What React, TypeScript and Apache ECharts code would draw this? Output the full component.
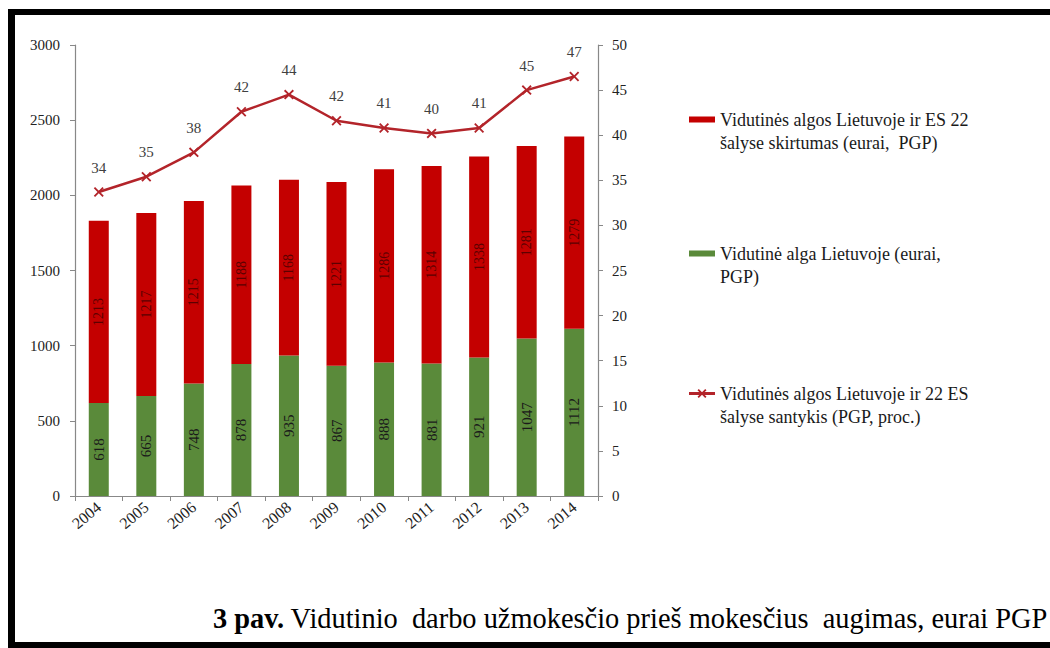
import React, { useEffect, useRef } from "react";
import * as echarts from "echarts";

const years = ["2004", "2005", "2006", "2007", "2008", "2009", "2010", "2011", "2012", "2013", "2014"];
const wageLT = [618, 665, 748, 878, 935, 867, 888, 881, 921, 1047, 1112];
const gapEU = [1213, 1217, 1215, 1188, 1168, 1221, 1286, 1314, 1338, 1281, 1279];
const ratio = [33.7, 35.4, 38.1, 42.6, 44.5, 41.6, 40.8, 40.2, 40.8, 45.0, 46.5];
const ratioLabels = ["34", "35", "38", "42", "44", "42", "41", "40", "41", "45", "47"];
const leftTicks = [0, 500, 1000, 1500, 2000, 2500, 3000];
const rightTicks = [0, 5, 10, 15, 20, 25, 30, 35, 40, 45, 50];

const nameGap = "Vidutinės algos Lietuvoje ir ES 22\nšalyse skirtumas (eurai,  PGP)";
const nameWage = "Vidutinė alga Lietuvoje (eurai,\nPGP)";
const nameRatio = "Vidutinės algos Lietuvoje ir 22 ES\nšalyse santykis (PGP, proc.)";

const RED = "#c40000";
const GREEN = "#5a8a3a";
const LINE = "#b3242a";
const FONT = "Liberation Serif";

function xPoly(cx: number, cy: number, h: number, t: number) {
  const pts = [
    [-h, -h + t], [-h + t, -h], [0, -t], [h - t, -h], [h, -h + t], [t, 0],
    [h, h - t], [h - t, h], [0, t], [-h + t, h], [-h, h - t], [-t, 0],
  ];
  return "M" + pts.map((p) => `${(cx + p[0]).toFixed(2)},${(cy + p[1]).toFixed(2)}`).join(" L") + " Z";
}

const corners = "M0,0 L0.01,0 L0,0.01 Z M26,46 L25.99,46 L26,45.99 Z";
const rectIcon = "path://M0,8.5 L26,8.5 L26,14.5 L0,14.5 Z " + corners;
const lineIcon = "path://M0,10 L26,10 L26,13 L0,13 Z " + xPoly(13, 11.5, 4.5, 1.3) + " " + corners;
const xSymbol = "path://" + xPoly(5, 5, 5, 1.3);

function legendAt(name: string, top: number, icon: string) {
  return {
    data: [{ name, icon }],
    left: 689,
    top,
    padding: 0,
    orient: "vertical",
    itemWidth: 26,
    itemHeight: 46,
    symbolKeepAspect: false,
    itemStyle: { borderWidth: 0 },
    selectedMode: false,
    formatter: (n: string) => n.split("\n").map((s) => "{a|" + s + "}").join("\n"),
    textStyle: {
      fontFamily: FONT,
      fontSize: 18,
      lineHeight: 23,
      color: "#1a1a1a",
      rich: { a: { fontFamily: FONT, fontSize: 18, lineHeight: 23, color: "#1a1a1a" } },
    },
  };
}

export default function App() {
  const ref = useRef<HTMLDivElement>(null);
  useEffect(() => {
    if (!ref.current) return;
    const chart = echarts.init(ref.current, undefined, { renderer: "svg" });
    chart.setOption({
      animation: false,
      backgroundColor: "#ffffff",
      textStyle: { fontFamily: FONT },
      grid: { left: 75, right: 452, top: 45, bottom: 152 },
      legend: [
        legendAt(nameGap, 108, rectIcon),
        legendAt(nameWage, 242, rectIcon),
        legendAt(nameRatio, 382, lineIcon),
      ],
      xAxis: {
        type: "category",
        data: years,
        axisLine: { lineStyle: { color: "#888", width: 1.2 } },
        axisTick: { show: true, length: 5, lineStyle: { color: "#888" } },
        axisLabel: { rotate: 40, margin: 9, fontSize: 16, color: "#222", fontFamily: FONT },
      },
      yAxis: [
        {
          type: "value",
          min: leftTicks[0],
          max: leftTicks[leftTicks.length - 1],
          interval: 500,
          axisLine: { show: true, lineStyle: { color: "#888", width: 1.2 } },
          axisTick: { show: true, length: 5, lineStyle: { color: "#888" } },
          splitLine: { show: false },
          axisLabel: {
            margin: 15,
            fontSize: 15,
            color: "#222",
            fontFamily: FONT,
            formatter: (v: number) => String(v),
          },
        },
        {
          type: "value",
          min: rightTicks[0],
          max: rightTicks[rightTicks.length - 1],
          interval: 5,
          position: "right",
          axisLine: { show: true, lineStyle: { color: "#888", width: 1.2 } },
          axisTick: { show: true, length: 5, lineStyle: { color: "#888" } },
          splitLine: { show: false },
          axisLabel: {
            margin: 14,
            fontSize: 15,
            color: "#222",
            fontFamily: FONT,
            formatter: (v: number) => String(v),
          },
        },
      ],
      series: [
        {
          name: nameWage,
          type: "bar",
          stack: "total",
          data: wageLT,
          barWidth: 20,
          itemStyle: { color: GREEN },
          label: {
            show: true,
            position: "inside",
            rotate: 90,
            fontSize: 15,
            color: "#1a1a1a",
            fontFamily: FONT,
          },
        },
        {
          name: nameGap,
          type: "bar",
          stack: "total",
          data: gapEU,
          barWidth: 20,
          itemStyle: { color: RED },
          label: {
            show: true,
            position: "inside",
            rotate: 90,
            fontSize: 14,
            color: "#5c0000",
            fontFamily: FONT,
          },
        },
        {
          name: nameRatio,
          type: "line",
          yAxisIndex: 1,
          data: ratio,
          symbol: xSymbol,
          symbolSize: 10,
          lineStyle: { color: LINE, width: 2.5 },
          itemStyle: { color: LINE, borderWidth: 0 },
          label: {
            show: true,
            position: "top",
            distance: 12,
            fontSize: 15,
            color: "#404040",
            fontFamily: FONT,
            formatter: (p: any) => ratioLabels[p.dataIndex],
          },
        },
      ],
      graphic: [
        { type: "rect", shape: { x: 8, y: 9, width: 1042, height: 6 }, style: { fill: "#000" } },
        { type: "rect", shape: { x: 8, y: 9, width: 7, height: 639 }, style: { fill: "#000" } },
        { type: "rect", shape: { x: 8, y: 642, width: 1042, height: 6 }, style: { fill: "#000" } },
        {
          type: "text",
          x: 213,
          y: 618,
          style: {
            text: "{b|3 pav.}{n| Vidutinio  darbo užmokesčio prieš mokesčius  augimas, eurai PGP}",
            fontFamily: FONT,
            fontSize: 28.4,
            fill: "#000",
            verticalAlign: "middle",
            rich: {
              b: { fontWeight: "bold", fontFamily: FONT, fontSize: 28.4 },
              n: { fontFamily: FONT, fontSize: 28.4 },
            },
          },
        },
      ],
    });
    return () => chart.dispose();
  }, []);
  return (
    <div
      ref={ref}
      style={{ position: "fixed", left: 0, top: 0, width: 1050, height: 648, background: "#fff" }}
    />
  );
}
